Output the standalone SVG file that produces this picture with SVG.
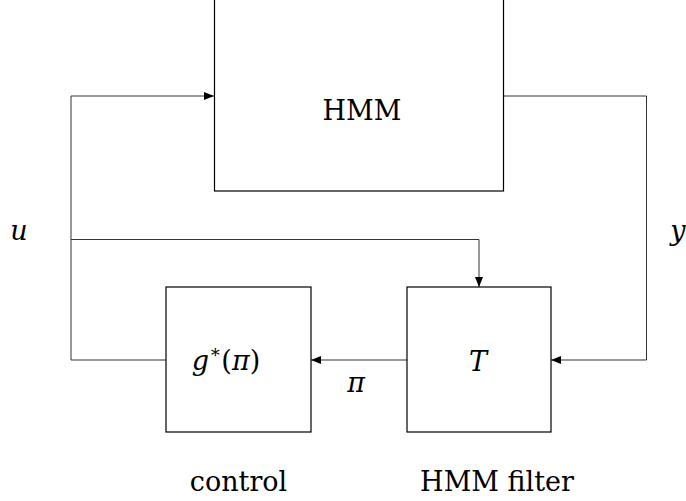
<svg xmlns="http://www.w3.org/2000/svg" width="686" height="501" viewBox="0 0 686 501">
  <style>
    .box { fill: #fff; stroke: #000; stroke-width: 1.2; }
    .wire { fill: none; stroke: #333; stroke-width: 1; }
    .t { font-family: 'DejaVu Serif', serif; font-size: 27px; fill: #000; }
    .m { font-style: italic; }
  </style>
  <defs>
    <marker id="arr" markerWidth="10" markerHeight="8" refX="10" refY="4" orient="auto" markerUnits="userSpaceOnUse">
      <path d="M0,0 L10,4 L0,8 Z" fill="#000"/>
    </marker>
  </defs>

  <g id="connectors">
    <!-- control output to HMM input -->
    <path class="wire" d="M166,360 H71 V96 H214" marker-end="url(#arr)"/>
    <!-- control branch into filter -->
    <path class="wire" d="M71,239.5 H479 V287" marker-end="url(#arr)"/>
    <!-- HMM observation to filter -->
    <path class="wire" d="M503.5,96 H646.5 V360 H551" marker-end="url(#arr)"/>
    <!-- filter belief to control -->
    <path class="wire" d="M407,360 H311" marker-end="url(#arr)"/>
  </g>

  <g id="hmm">
    <rect class="box" x="214.5" y="-2" width="289" height="193"/>
    <text class="t" x="362" y="120" text-anchor="middle">HMM</text>
  </g>

  <g id="controller">
    <rect class="box" x="166" y="287" width="145" height="145"/>
    <text class="t" x="226" y="370" text-anchor="middle"><tspan class="m">g</tspan><tspan font-size="18" dy="-12">∗</tspan><tspan dy="12">(</tspan><tspan class="m">π</tspan>)</text>
    <text class="t" x="238.5" y="491" text-anchor="middle">control</text>
  </g>

  <g id="filter">
    <rect class="box" x="407" y="287" width="144" height="145"/>
    <text class="t m" x="478" y="371" text-anchor="middle">T</text>
    <text class="t" x="497" y="491" text-anchor="middle">HMM filter</text>
  </g>

  <g id="labels">
    <text class="t m" x="19" y="240" text-anchor="middle">u</text>
    <text class="t m" x="678" y="240" text-anchor="middle">y</text>
    <text class="t m" x="356" y="392" text-anchor="middle">π</text>
  </g>
</svg>
